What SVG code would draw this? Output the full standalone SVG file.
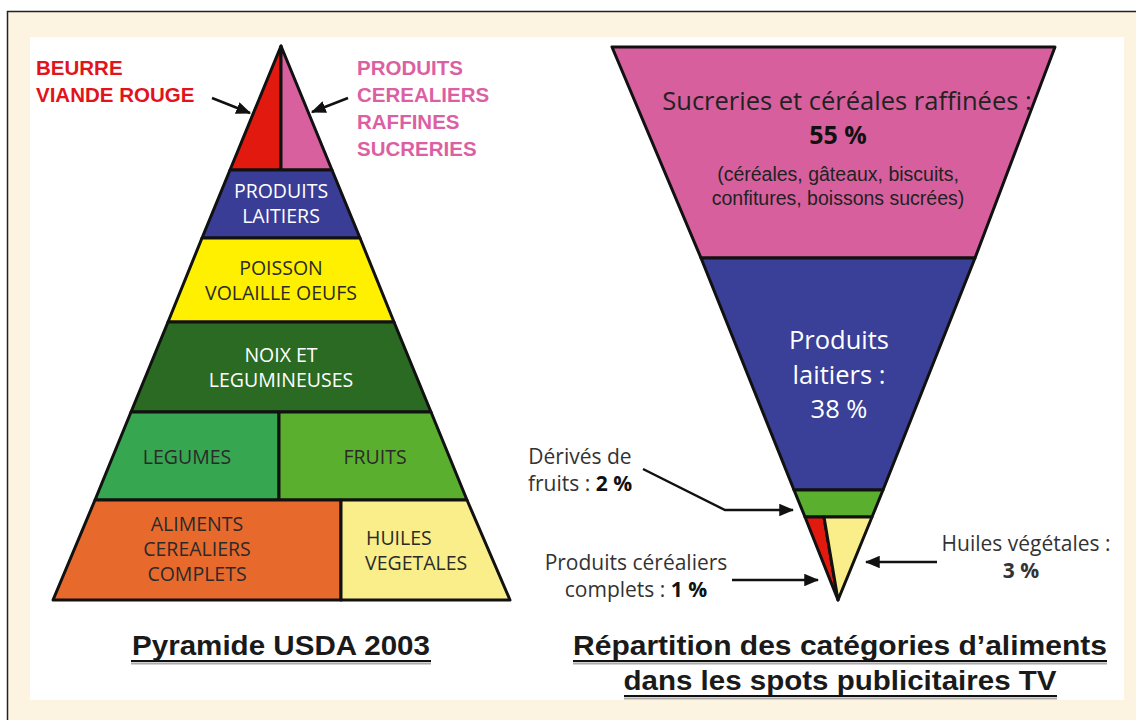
<svg xmlns="http://www.w3.org/2000/svg" width="1136" height="720" viewBox="0 0 1136 720">
<defs>
<style>
.t{font-family:"Open Sans","Liberation Sans",sans-serif;}
.band{stroke:#111;stroke-width:3;stroke-linejoin:round}
.pl{font-family:"Open Sans","Liberation Sans",sans-serif;font-size:19.5px}
.c{text-anchor:middle}
.s{text-anchor:start}
.w{fill:#fff}
.d{fill:#2a2a2a}
.lbl{font-family:"Open Sans","Liberation Sans",sans-serif;font-size:21px;fill:#333;text-anchor:middle}
.red{font-family:"Liberation Sans","Open Sans",sans-serif;font-weight:bold;font-size:20.5px;fill:#e2131b}
.pink{font-family:"Liberation Sans","Open Sans",sans-serif;font-weight:bold;font-size:20.5px;fill:#dc5fa4}
.title{font-family:"Liberation Sans","Open Sans",sans-serif;font-weight:bold;font-size:28px;fill:#1a1a1a;text-anchor:middle}
.arr{stroke:#111;stroke-width:2.5;fill:none}
</style>
<marker id="ah" viewBox="0 0 12 10" refX="11" refY="5" markerWidth="6" markerHeight="5" orient="auto" markerUnits="strokeWidth">
<path d="M0,0 L12,5 L0,10 z" fill="#111"/>
</marker>
</defs>
<rect x="0" y="0" width="1136" height="720" fill="#fff"/>
<rect x="7.5" y="11.5" width="1140" height="720" fill="#fdf3e1" stroke="#222" stroke-width="1.5"/>
<rect x="30" y="37" width="1094" height="663" fill="#fff"/>

<g id="pyramid">
<g id="p-beurre"><polygon class="band" points="281,46 281,170 230,170" fill="#e2190f"/></g>
<g id="p-cereales-raffines"><polygon class="band" points="281,46 332,170 281,170" fill="#d9609f"/></g>
<g id="p-laitiers"><polygon class="band" points="230,170 332,170 360,238 202,238" fill="#3a3d95"/>
<text class="pl c w" x="281" y="198">PRODUITS</text><text class="pl c w" x="281" y="223">LAITIERS</text></g>
<g id="p-poisson"><polygon class="band" points="202,238 360,238 394,322 168,322" fill="#fff000"/>
<text class="pl c d" x="281" y="275">POISSON</text><text class="pl c d" x="281" y="300">VOLAILLE OEUFS</text></g>
<g id="p-noix"><polygon class="band" points="168,322 394,322 431,412 131,412" fill="#2b6a22"/>
<text class="pl c w" x="281" y="362">NOIX ET</text><text class="pl c w" x="281" y="387">LEGUMINEUSES</text></g>
<g id="p-legumes"><polygon class="band" points="131,412 279,412 279,500 95,500" fill="#36a650"/>
<text class="pl c d" x="187" y="464">LEGUMES</text></g>
<g id="p-fruits"><polygon class="band" points="279,412 431,412 467,500 279,500" fill="#5ab02e"/>
<text class="pl c d" x="375" y="464">FRUITS</text></g>
<g id="p-aliments"><polygon class="band" points="95,500 341,500 341,600 53,600" fill="#e8692c"/>
<text class="pl c d" x="197" y="531">ALIMENTS</text><text class="pl c d" x="197" y="556">CEREALIERS</text><text class="pl c d" x="197" y="581">COMPLETS</text></g>
<g id="p-huiles"><polygon class="band" points="341,500 467,500 510,600 341,600" fill="#f9ee8a"/>
<text class="pl s d" x="366" y="545">HUILES</text><text class="pl s d" x="365" y="570">VEGETALES</text></g>
<g id="lbl-beurre"><text class="red" x="36" y="75">BEURRE</text><text class="red" x="36" y="102">VIANDE ROUGE</text></g>
<g id="lbl-produits"><text class="pink" x="357" y="75">PRODUITS</text><text class="pink" x="357" y="102">CEREALIERS</text><text class="pink" x="357" y="129">RAFFINES</text><text class="pink" x="357" y="156">SUCRERIES</text></g>
</g>

<g id="funnel">
<g id="f-sucreries"><polygon class="band" points="612,47 1055,47 975,258 701,258" fill="#d75f9e"/>
<text class="t" x="847" y="110" font-size="25.5" fill="#222" text-anchor="middle">Sucreries et céréales raffinées :</text>
<text class="t" x="838" y="144" font-size="25" font-weight="bold" fill="#111" text-anchor="middle">55 %</text>
<text x="838" y="181" font-family="Liberation Sans, Open Sans, sans-serif" font-size="19.5" fill="#222" text-anchor="middle">(céréales, gâteaux, biscuits,</text>
<text x="838" y="205" font-family="Liberation Sans, Open Sans, sans-serif" font-size="19.5" fill="#222" text-anchor="middle">confitures, boissons sucrées)</text></g>
<g id="f-laitiers"><polygon class="band" points="701,258 975,258 883,490 794,490" fill="#3a3f97"/>
<text class="t" x="839" y="349" font-size="25.5" fill="#fff" text-anchor="middle">Produits</text>
<text class="t" x="839" y="384" font-size="25.5" fill="#fff" text-anchor="middle">laitiers :</text>
<text class="t" x="839" y="418" font-size="25.5" fill="#fff" text-anchor="middle">38 %</text></g>
<g id="f-fruits"><polygon class="band" points="794,490 883,490 872,517 805,517" fill="#5ab02e"/></g>
<g id="f-cereales"><polygon class="band" points="805,517 824,517 838,600" fill="#e2190f"/></g>
<g id="f-huiles"><polygon class="band" points="824,517 872,517 838,600" fill="#f9ee8a"/></g>
<g id="lbl-derives"><text class="lbl" x="580" y="464">Dérivés de</text>
<text class="lbl" x="580" y="491">fruits : <tspan font-weight="bold" fill="#111">2 %</tspan></text></g>
<g id="lbl-complets"><text class="lbl" x="636" y="570">Produits céréaliers</text>
<text class="lbl" x="636" y="597">complets : <tspan font-weight="bold" fill="#111">1 %</tspan></text></g>
<g id="lbl-huiles"><text class="lbl" x="1026" y="551">Huiles végétales :</text>
<text class="lbl" x="1021" y="578" font-weight="bold" fill="#111">3 %</text></g>
</g>

<g id="connectors">
<line class="arr" x1="212" y1="98" x2="250" y2="113" marker-end="url(#ah)"/>
<line class="arr" x1="348" y1="98" x2="312" y2="112" marker-end="url(#ah)"/>
<polyline class="arr" points="643,469 725,510 793,510" marker-end="url(#ah)"/>
<line class="arr" x1="732" y1="580" x2="818" y2="580" marker-end="url(#ah)"/>
<line class="arr" x1="937" y1="562" x2="866" y2="562" marker-end="url(#ah)"/>
</g>

<g id="titles">
<text class="title" x="281" y="655" textLength="298" lengthAdjust="spacingAndGlyphs">Pyramide USDA 2003</text>
<line x1="131" y1="661" x2="431" y2="661" stroke="#111" stroke-width="2"/>
<line x1="131" y1="663.5" x2="431" y2="663.5" stroke="#aaa" stroke-width="2"/>
<text class="title" x="840" y="655" textLength="534" lengthAdjust="spacingAndGlyphs">Répartition des catégories d’aliments</text>
<line x1="573" y1="661" x2="1107" y2="661" stroke="#111" stroke-width="2"/>
<line x1="573" y1="663.5" x2="1107" y2="663.5" stroke="#aaa" stroke-width="2"/>
<text class="title" x="840" y="690" textLength="433" lengthAdjust="spacingAndGlyphs">dans les spots publicitaires TV</text>
<line x1="624" y1="696" x2="1057" y2="696" stroke="#111" stroke-width="2"/>
<line x1="624" y1="698.5" x2="1057" y2="698.5" stroke="#aaa" stroke-width="2"/>
</g>
</svg>
